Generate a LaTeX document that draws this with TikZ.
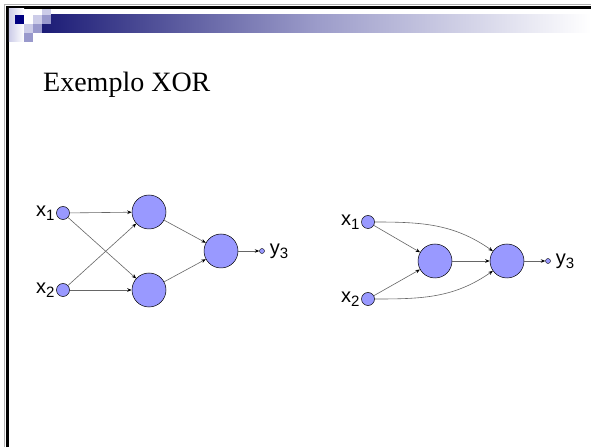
\documentclass[tikz,border=0pt]{standalone}
\usepackage{fontspec}
\setmainfont{Liberation Serif}
\setsansfont{Liberation Sans}
\usepackage{tikz}
\usetikzlibrary{arrows.meta,calc,positioning}

\definecolor{navy}{RGB}{0,0,128}
\definecolor{barblue}{RGB}{28,28,118}
\definecolor{lightlav}{RGB}{204,204,232}
\definecolor{midlav}{RGB}{153,153,204}
\definecolor{neuron}{RGB}{153,153,255}

\newcommand{\lsub}[2]{#1\raisebox{-4pt}{\fontsize{15}{15}\selectfont #2}}

\begin{document}
\begin{tikzpicture}[x=1pt, y=1pt, arrow/.style = {draw=gray!80!black, line width=0.6pt, -{Stealth[black,length=4.5pt,width=3.5pt]}}, node distance=1pt]
		\tikzset{unit/.style={circle,draw=black,line width=0.5pt,fill=neuron,inner sep=0pt,minimum size=34pt}}
		\tikzset{inp/.style={circle,draw=black,line width=0.5pt,fill=neuron,inner sep=0pt,minimum size=13pt}}
		\tikzset{outdot/.style={circle,draw=black,line width=0.4pt,fill=neuron,inner sep=0pt,minimum size=5pt}}
		\tikzset{lbl/.style={font=\sffamily\fontsize{20}{20}\selectfont,inner sep=0pt}}
		\tikzset{sq/.style={draw=none,minimum size=9pt,inner sep=0pt,anchor=north west}}

		\useasboundingbox (0,0) rectangle (591,447);
		\fill[white] (0,0) rectangle (591,447);

		% Frame
		\draw[gray!60, line width=1pt] (4.3,0) -- (4.3,442.7) -- (591,442.7);
		\draw[black, line width=3.2pt] (7.2,0) -- (7.2,439.8) -- (591,439.8);

		% Title bar
		\shade[left color=lightlav, right color=white] (8.8,438.2) rectangle (24,405);
		\shade[left color=barblue, right color=white, middle color=gray!70!blue!60] (42,432) rectangle (591,414);
		\node[sq, fill=navy] (sqa) at (15,432) {};
		\node[sq, fill=lightlav] (sqb) at (33,432) {};
		\node[sq, fill=lightlav, minimum height=6pt] (sqc) at (42,438.2) {};
		\node[sq, fill=midlav] (sqd) at (42,432) {};
		\node[sq, fill=lightlav] (sqe) at (24,423) {};
		\node[sq, fill=midlav] (sqf) at (33,423) {};
		\node[sq, fill=midlav] (sqg) at (24,414) {};

		\node[anchor=base west, inner sep=0pt, font=\fontsize{28}{28}\selectfont] (title) at (43,355) {Exemplo XOR};

		% Left network
		\node[inp] (ax1) at (63,234) {};
		\node[inp] (ax2) at (63,157) {};
		\node[unit] (ah1) at (149,235) {};
		\node[unit] (ah2) at (149,157) {};
		\node[unit] (aout) at (221,196) {};
		\node[outdot] (ay) at (262,196) {};
		\node[lbl, left=1.5pt of ax1] (ax1l) {\lsub{x}{1}};
		\node[lbl, left=1.5pt of ax2] (ax2l) {\lsub{x}{2}};
		\node[lbl, right=5pt of ay] (ayl) {\lsub{y}{3}};

		\draw [arrow] (ax1) -- (ah1);
		\draw [arrow] (ax1) -- (ah2);
		\draw [arrow] (ax2) -- (ah1);
		\draw [arrow] (ax2) -- (ah2);
		\draw [arrow] (ah1) -- (aout);
		\draw [arrow] (ah2) -- (aout);
		\draw [arrow] (aout) -- (ay);

		% Right network
		\node[inp] (bx1) at (368,225) {};
		\node[inp] (bx2) at (368,148) {};
		\node[unit] (bh) at (435,186) {};
		\node[unit] (bout) at (507,186) {};
		\node[outdot] (by) at (548,186) {};
		\node[lbl, left=1.5pt of bx1] (bx1l) {\lsub{x}{1}};
		\node[lbl, left=1.5pt of bx2] (bx2l) {\lsub{x}{2}};
		\node[lbl, right=5pt of by] (byl) {\lsub{y}{3}};

		\draw [arrow] (bx1) -- (bh);
		\draw [arrow] (bx2) -- (bh);
		\draw [arrow] (bh) -- (bout);
		\draw [arrow] (bout) -- (by);
		\draw [arrow] (bx1) to[out=0, in=145] (bout);
		\draw [arrow] (bx2) to[out=0, in=-145] (bout);

	\end{tikzpicture}
\end{document}
